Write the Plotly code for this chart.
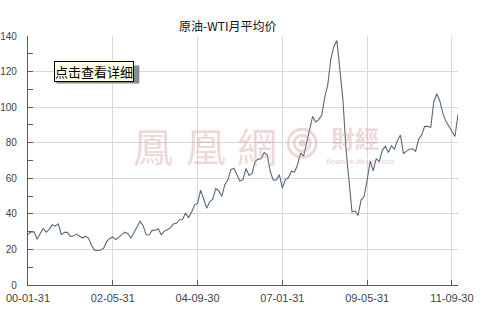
import pandas as pd
import plotly.graph_objects as go

# ---- data ----
months = [d.strftime("%y-%m-%d") for d in pd.date_range("2000-01-31", periods=143, freq="ME")]
prices = [
    28.5, 29.8, 29.9, 25.7, 28.8, 31.8, 29.7, 31.3, 33.9, 33.1, 34.4, 28.4,
    29.6, 29.6, 27.3, 27.5, 28.6, 27.6, 26.4, 27.4, 26.2, 22.2, 19.6, 19.4,
    19.7, 20.7, 24.5, 26.2, 27.0, 25.5, 27.0, 28.4, 29.7, 28.8, 26.4, 29.5,
    33.0, 35.8, 33.5, 28.2, 28.1, 30.7, 30.8, 31.6, 28.3, 30.3, 31.1, 32.1,
    34.3, 34.7, 36.7, 36.8, 40.3, 38.0, 40.8, 44.9, 45.9, 53.3, 48.5, 43.2,
    46.8, 48.2, 54.2, 53.0, 49.8, 56.4, 59.0, 65.0, 65.6, 62.3, 58.3, 59.4,
    65.5, 61.6, 62.7, 69.4, 70.8, 71.0, 74.4, 73.0, 63.8, 58.9, 59.1, 62.0,
    54.5, 59.3, 60.4, 64.0, 63.5, 67.5, 74.1, 72.4, 79.9, 85.8, 94.8, 91.7,
    93.0, 95.4, 105.5, 112.6, 127.0, 134.0, 137.5, 121.0, 104.1, 76.6, 57.3, 41.1,
    41.7, 39.1, 47.9, 49.7, 59.0, 69.6, 64.2, 71.1, 69.4, 75.7, 78.0, 74.5,
    78.3, 76.4, 81.2, 84.3, 73.7, 75.3, 76.3, 76.6, 75.2, 81.9, 84.3, 89.2,
    89.2, 88.6, 102.9, 107.5, 103.5, 96.5, 92.0, 89.0, 86.5, 83.5, 96.0,
]
tick_labels = ["00-01-31", "02-05-31", "04-09-30", "07-01-31", "09-05-31", "11-09-30"]
title_text = "原油-WTI月平均价"
button_text = "点击查看详细"

# ---- layout geometry (pixels) ----
W, H = 482, 311
L, R, T, B = 27.5, 458, 35.5, 285

def px(x):
    return (x - L) / (R - L)

def py(y):
    return (B - y) / (B - T)

fig = go.Figure()
fig.add_trace(go.Scatter(
    x=months, y=prices, mode="lines",
    line=dict(color="#56697d", width=1.1),
    hoverinfo="x+y",
))

wm = "rgba(214,160,160,0.42)"

def ann(text, x, y, size, family, color, **kw):
    d = dict(text=text, x=px(x), y=py(y), xref="paper", yref="paper",
             xanchor="center", yanchor="middle", showarrow=False,
             font=dict(family=family, size=size, color=color))
    d.update(kw)
    return d

annotations = [
    ann(title_text, 227, 25, 12, "Noto Sans CJK SC", "#111"),
    ann("鳳", 153, 145, 40, "Noto Sans CJK TC", wm),
    ann("凰", 206, 145, 40, "Noto Sans CJK TC", wm),
    ann("網", 257, 145, 40, "Noto Sans CJK TC", wm),
    ann("<b>財經</b>", 355, 137, 24, "Noto Sans CJK TC", wm),
    ann("<b>finance.ifeng.com</b>", 360, 161, 8, "Liberation Sans", wm),
    ann(button_text, 94, 71, 13, "Noto Sans CJK SC", "#000",
        bgcolor="#ffffe1", bordercolor="#000", borderwidth=1, borderpad=0),
]

shapes = [
    # tooltip shadow
    dict(type="rect", xref="paper", yref="paper", x0=px(56), x1=px(139), y0=py(83), y1=py(65),
         fillcolor="#8a8a8a", line=dict(width=0), layer="above"),
    # logo swirl approximation
    dict(type="circle", xref="paper", yref="paper", x0=px(288), x1=px(316), y0=py(157), y1=py(129),
         line=dict(color=wm, width=3)),
    dict(type="circle", xref="paper", yref="paper", x0=px(294), x1=px(310), y0=py(151), y1=py(135),
         line=dict(color=wm, width=3)),
    dict(type="circle", xref="paper", yref="paper", x0=px(299), x1=px(305), y0=py(146), y1=py(140),
         fillcolor=wm, line=dict(color=wm, width=1)),
]

fig.update_layout(
    width=W, height=H,
    margin=dict(l=L, r=W - R, t=T, b=H - B, pad=0, autoexpand=False),
    paper_bgcolor="white", plot_bgcolor="white",
    showlegend=False,
    annotations=annotations,
    shapes=shapes,
    font=dict(family="Liberation Sans", size=11, color="#444"),
)
fig.update_xaxes(
    type="category",
    range=[0, len(months) - 1],
    tickvals=[months[i] for i in range(0, len(months), 28)],
    ticktext=tick_labels,
    showgrid=True, gridcolor="#d9d9d9", gridwidth=1,
    showline=True, linecolor="#5a5a5a", linewidth=1.2,
    ticks="inside", ticklen=5, tickcolor="#5a5a5a",
    tickfont=dict(family="Liberation Sans", size=11, color="#444"),
    ticklabelstandoff=3,
    automargin=False,
    zeroline=False,
)
fig.update_yaxes(
    range=[0, 140],
    tickvals=[0, 20, 40, 60, 80, 100, 120, 140],
    showgrid=True, gridcolor="#d9d9d9", gridwidth=1,
    showline=True, linecolor="#5a5a5a", linewidth=1.2,
    ticks="inside", ticklen=5, tickcolor="#5a5a5a",
    minor=dict(dtick=10, tick0=0, ticks="inside", ticklen=5, tickcolor="#5a5a5a", showgrid=False),
    tickfont=dict(family="Liberation Sans", size=10, color="#444"),
    ticklabelstandoff=8,
    automargin=False,
    zeroline=False,
)

fig.write_html("out.html")
